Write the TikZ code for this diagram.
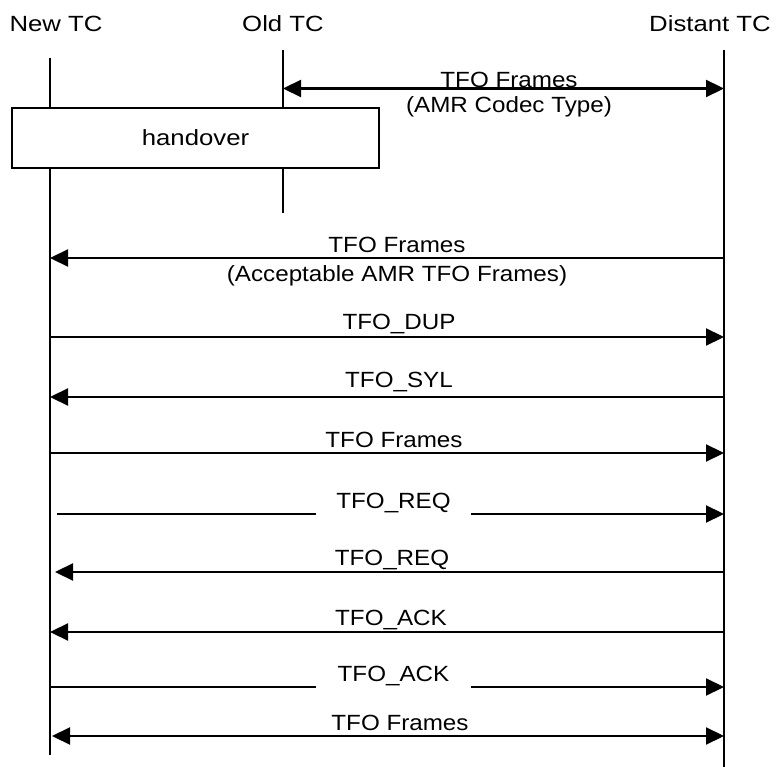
\documentclass[tikz,border=0pt]{standalone}
\usepackage{fontspec}
\setmainfont{Liberation Sans}
\usetikzlibrary{arrows.meta}
\newcommand{\hdtxt}[1]{\scalebox{1.17}[1]{#1}}
\newcommand{\mgtxt}[1]{\scalebox{1.1}[1]{#1}}
\begin{document}
\begin{tikzpicture}[x=1pt,y=-1pt,
  lbl/.style={font=\fontsize{22}{24}\selectfont, inner sep=0pt, anchor=base},
  gaplbl/.style={lbl, fill=white, minimum width=155pt, text depth=8pt},
  life/.style={line width=1.7pt},
  tip/.tip={Triangle[length=18pt,width=17pt]},
  msg/.style={line width=2.2pt, -tip},
  dmsg/.style={line width=2.2pt, tip-tip},
  boxst/.style={draw, line width=1.7pt, fill=white, minimum width=367pt, minimum height=60pt, inner sep=0pt, font=\fontsize{22}{24}\selectfont}
]
\useasboundingbox (0,0) rectangle (777,767);

% headers
\node[lbl] (hnew) at (56,32) {\hdtxt{New TC}};
\node[lbl] (hold) at (283,32) {\hdtxt{Old TC}};
\node[lbl] (hdist) at (710,32) {\hdtxt{Distant TC}};

% lifelines
\coordinate (newtop) at (50,58);
\coordinate (newbot) at (50,755);
\coordinate (oldtop) at (283,50);
\coordinate (oldbot) at (283,213);
\coordinate (disttop) at (724,50);
\coordinate (distbot) at (724,767);
\draw[life] (newtop) -- (newbot);
\draw[life] (oldtop) -- (oldbot);
\draw[life] (disttop) -- (distbot);

% handover box
\node[boxst] (hand) at (195.5,138) {\hdtxt{handover}};

% message coordinates
\coordinate (o1) at (283,88.5);  \coordinate (d1) at (724,88.5);
\coordinate (d2) at (724,258);   \coordinate (n2) at (50,258);
\coordinate (n3) at (50,337);    \coordinate (d3) at (724,337);
\coordinate (d4) at (724,397);   \coordinate (n4) at (50,397);
\coordinate (n5) at (50,453);    \coordinate (d5) at (724,453);
\coordinate (n6) at (57,514);    \coordinate (d6) at (724,514);
\coordinate (d7) at (724,572);   \coordinate (n7) at (55,572);
\coordinate (d8) at (724,632);   \coordinate (n8) at (50,632);
\coordinate (n9) at (50,687);    \coordinate (d9) at (724,687);
\coordinate (n10) at (52,736);   \coordinate (d10) at (724,736);

\draw[dmsg] (o1) -- (d1);
\draw[msg] (d2) -- (n2);
\draw[msg] (n3) -- (d3);
\draw[msg] (d4) -- (n4);
\draw[msg] (n5) -- (d5);
\draw[msg] (n6) -- (d6);
\draw[msg] (d7) -- (n7);
\draw[msg] (d8) -- (n8);
\draw[msg] (n9) -- (d9);
\draw[dmsg] (n10) -- (d10);

% labels
\node[lbl] (l1a) at (509,88) {\mgtxt{TFO Frames}};
\node[lbl] (l1b) at (509,113) {\mgtxt{(AMR Codec Type)}};
\node[lbl] (l2a) at (397,253) {\mgtxt{TFO Frames}};
\node[lbl] (l2b) at (397,282) {\mgtxt{(Acceptable AMR TFO Frames)}};
\node[lbl] (l3) at (399,330) {\mgtxt{TFO\_DUP}};
\node[lbl] (l4) at (399,388) {\mgtxt{TFO\_SYL}};
\node[lbl] (l5) at (394,447) {\mgtxt{TFO Frames}};
\node[gaplbl] (l6) at (393.5,508) {\mgtxt{TFO\_REQ}};
\node[lbl] (l7) at (392,565) {\mgtxt{TFO\_REQ}};
\node[lbl] (l8) at (391,625) {\mgtxt{TFO\_ACK}};
\node[gaplbl] (l9) at (393.5,681) {\mgtxt{TFO\_ACK}};
\node[lbl] (l10) at (400,730) {\mgtxt{TFO Frames}};
\end{tikzpicture}
\end{document}
